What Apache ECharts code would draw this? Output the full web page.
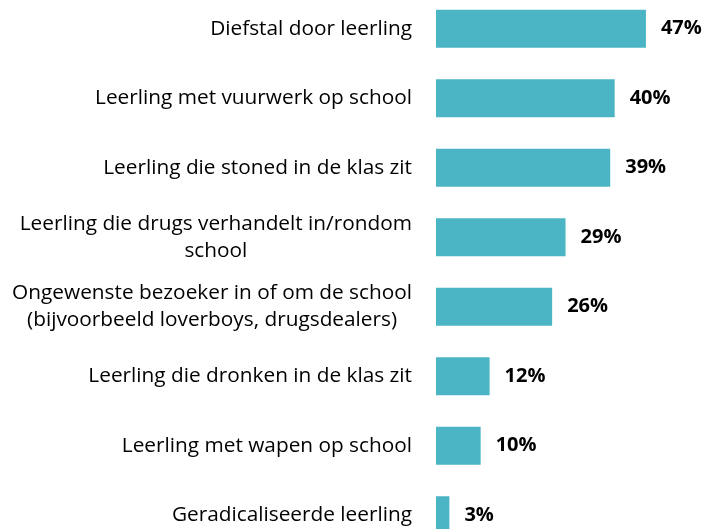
<!DOCTYPE html>
<html>
<head>
<meta charset="utf-8">
<script src="https://cdn.jsdelivr.net/npm/echarts@6/dist/echarts.min.js"></script>
<style>html,body{margin:0;padding:0;background:#fff;}#c{width:705px;height:529px;}</style>
</head>
<body>
<div id="c"></div>
<script>
const categories = [
  "Diefstal door leerling",
  "Leerling met vuurwerk op school",
  "Leerling die stoned in de klas zit",
  "Leerling die drugs verhandelt in/rondom\nschool",
  "Ongewenste bezoeker in of om de school\n(bijvoorbeeld loverboys, drugsdealers)",
  "Leerling die dronken in de klas zit",
  "Leerling met wapen op school",
  "Geradicaliseerde leerling"
];
const values = [47, 40, 39, 29, 26, 12, 10, 3];

const chart = echarts.init(document.getElementById('c'));
chart.setOption({
  backgroundColor: '#ffffff',
  animation: false,
  grid: { left: 436, width: 268, top: -6, height: 556, containLabel: false, outerBoundsMode: 'none' },
  xAxis: {
    type: 'value', min: 0, max: 60, show: false
  },
  yAxis: {
    type: 'category', inverse: true, data: categories,
    axisLine: { show: false }, axisTick: { show: false },
    axisLabel: {
      margin: 24,
      fontFamily: '"Open Sans", sans-serif',
      fontSize: 20.8,
      color: '#000',
      lineHeight: 27,
      formatter: function (v) {
        return v.split('\n').map(function (l) { return '{c|' + l + '}'; }).join('\n');
      },
      rich: { c: { align: 'center', fontFamily: '"Open Sans", sans-serif', fontSize: 20.8, color: '#000', lineHeight: 27 } }
    }
  },
  series: [{
    type: 'bar', data: values, barWidth: 38,
    itemStyle: { color: '#4BB5C5' },
    label: {
      show: true, position: 'right', distance: 15,
      formatter: '{c}%',
      fontFamily: '"Open Sans", sans-serif', fontWeight: 'bold', fontSize: 20, color: '#000'
    }
  }]
});
</script>
</body>
</html>
